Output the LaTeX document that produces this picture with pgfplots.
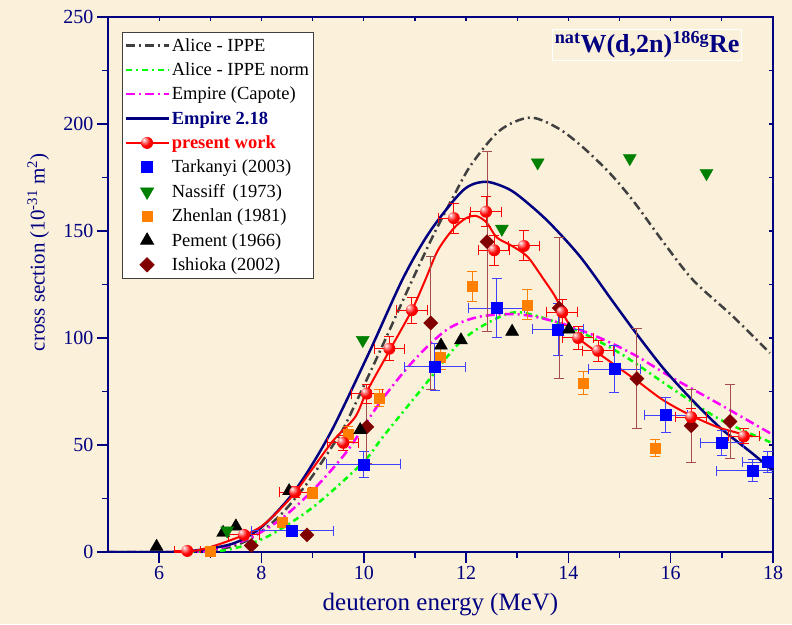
\documentclass[border=0pt]{standalone}
\usepackage{fontspec}
\setmainfont{Liberation Serif}
\usepackage{pgfplots}
\usepackage{pgfplotstable}
\pgfplotsset{compat=1.18}
\usetikzlibrary{plotmarks}

\definecolor{bg}{HTML}{FBF0DA}
\definecolor{navy}{HTML}{000080}
\definecolor{dgray}{HTML}{404040}
\definecolor{limeg}{HTML}{00FF00}
\definecolor{magen}{HTML}{FF00FF}
\definecolor{dgreen}{HTML}{008000}
\definecolor{orng}{HTML}{FF8000}
\definecolor{maroonc}{HTML}{800000}
\definecolor{bluec}{HTML}{0000FF}
\definecolor{redc}{HTML}{FF0000}

\pgfdeclareradialshading{rballsh}{\pgfpoint{-14bp}{14bp}}{%
  color(0bp)=(white); color(9bp)=(redc!45!white); color(22bp)=(redc);
  color(50bp)=(redc!88!black); color(75bp)=(redc!75!black)}
\pgfdeclareplotmark{rball}{%
  \pgfpathcircle{\pgfpointorigin}{\pgfplotmarksize}%
  \pgfshadepath{rballsh}{0}%
  \pgfusepath{}}

% present work: E sigma dE dsigma
\pgfplotstableread{
x y ex ey
6.55 0.5 0.25 0.5
7.66 8 0.3 1.5
8.66 28 0.3 2.5
9.60 51 0.3 3.5
10.06 74 0.3 4.5
10.50 95 0.3 5.5
10.94 113 0.3 6
11.76 156 0.3 7
12.39 159 0.3 7
12.55 141 0.3 7
13.13 143 0.3 7
13.88 112 0.3 6
14.19 100 0.3 5.5
14.58 94 0.3 5
16.40 63 0.3 4
17.43 54 0.3 3.5
}\present

\pgfplotstableread{
x y ex ey
8.60 10 0.80 2
10.00 41 0.72 6
11.39 86.5 0.6 11
12.60 114 0.55 14
13.80 104 0.5 12
14.90 85.5 0.5 11
15.90 64 0.42 8
17.00 51 0.42 6
17.60 38 0.7 5
17.90 42 0.5 5
}\tarkanyi

\pgfplotstableread{
x y
7.33 10
9.98 99
12.70 151
13.40 182
15.20 184
16.70 177
}\nassiff

\pgfplotstableread{
x y ey
7.00 0.5 0.5
8.40 14 2
9.00 27.5 2.5
9.69 55 3.5
10.30 72 4
11.50 91 5.5
12.12 124 7
13.20 115.5 7
14.29 79 5.5
15.70 48.6 4
}\zhenlan

\pgfplotstableread{
x y
5.95 2.5
7.25 9
7.50 12
8.54 28.5
9.93 57
11.51 96.5
11.90 99
12.90 103
14.01 104
}\pement

\pgfplotstableread{
x y ey
7.80 3 1
8.89 8 1
10.06 58.5 17
11.31 107 31
12.41 145 42
13.82 114 33
15.34 81 23.5
16.40 59 17
17.16 61 17.5
}\ishioka

\begin{document}
\begin{tikzpicture}
\useasboundingbox (-108pt,-72pt) rectangle (684pt,552pt);
\fill[bg] (-108pt,-72pt) rectangle (684pt,552pt);
% top/right inner ticks
\begin{axis}[
  at={(0pt,0pt)}, anchor=south west, scale only axis,
  width=665pt, height=535pt,
  xmin=5, xmax=18, ymin=0, ymax=250,
  axis line style={draw=none},
  xtick={6,...,17}, ytick={25,50,...,225},
  xtick pos=right, ytick pos=right, tick align=inside,
  major tick length=4pt,
  every tick/.style={navy, line width=1.2pt},
  xticklabels={}, yticklabels={},
]
\end{axis}
\begin{axis}[
  at={(0pt,0pt)}, anchor=south west, scale only axis,
  width=665pt, height=535pt,
  xmin=5, xmax=18, ymin=0, ymax=250,
  xtick={6,8,...,18}, minor xtick={7,9,...,17},
  ytick={0,50,...,250}, minor ytick={25,75,...,225},
  xtick pos=left, ytick pos=left, tick align=outside,
  major tick length=11pt, minor tick length=6pt,
  axis line style={navy, line width=2pt},
  every tick/.style={navy, line width=1.6pt},
  tick label style={navy, font=\fontsize{20}{24}\selectfont},
  /pgf/number format/assume math mode=true,
  xlabel={deuteron energy (MeV)},
  xlabel style={navy, font=\fontsize{25}{28}\selectfont, at={(axis description cs:0.5,-0.099)}, anchor=center},
  ylabel={cross section (10\textsuperscript{-31} m\textsuperscript{2})},
  ylabel style={navy, font=\fontsize{21}{24}\selectfont, at={(axis description cs:-0.105,0.56)}, anchor=center},
  legend style={at={(axis description cs:0.021,0.972)}, anchor=north west,
    draw=black!75, line width=0.8pt, fill=white,
    font=\fontsize{18.5}{21}\selectfont, row sep=6pt,
    inner xsep=2pt, inner ysep=4pt},
  legend cell align=left,
  legend image code/.code={\draw[mark repeat=2,mark phase=2,#1] plot coordinates {(0pt,0pt)(21.5pt,0pt)(43pt,0pt)};},
]
\addlegendimage{dgray, line width=2.5pt, dash pattern=on 9pt off 4pt on 2pt off 4pt}
\addlegendentry{Alice - IPPE}
\addlegendimage{limeg, line width=2.5pt, dash pattern=on 6pt off 4pt on 2pt off 4pt}
\addlegendentry{Alice - IPPE norm\hspace{42pt}}
\addlegendimage{magen, line width=2.5pt, dash pattern=on 9pt off 4pt on 2pt off 4pt}
\addlegendentry{Empire (Capote)}
\addlegendimage{navy, line width=2.5pt}
\addlegendentry{\textcolor{navy}{\textbf{Empire 2.18}}}
\addlegendimage{redc, line width=2pt, mark=rball, mark size=6pt}
\addlegendentry{\textcolor{redc}{\textbf{present work}}}
\addlegendimage{only marks, mark=square*, bluec, mark size=5.5pt}
\addlegendentry{Tarkanyi (2003)}
\addlegendimage{only marks, mark=triangle*, dgreen, mark size=7.5pt, mark options={rotate=180}}
\addlegendentry{Nassiff\, (1973)}
\addlegendimage{only marks, mark=square*, orng, mark size=5pt}
\addlegendentry{Zhenlan (1981)}
\addlegendimage{only marks, mark=triangle*, black, mark size=7.5pt}
\addlegendentry{Pement (1966)}
\addlegendimage{only marks, mark=square*, maroonc, mark size=5pt, mark options={rotate=45}}
\addlegendentry{Ishioka (2002)}

% Alice - IPPE
\addplot[forget plot, dgray, line width=2.5pt, dash pattern=on 9pt off 4pt on 2pt off 4pt, smooth, tension=0.5] coordinates {
(5.0,0) (6.5,0) (7.33,2) (7.84,7) (8.36,17) (8.89,32) (9.4,50) (9.65,60) (10.3,93)
(10.85,122) (11.36,148) (11.75,166) (12.1,181) (12.66,197) (13.25,203) (13.8,198)
(14.29,189) (14.81,177) (15.27,164) (15.85,145) (16.44,127) (17.22,110) (17.94,93) };
% Alice - IPPE norm
\addplot[forget plot, limeg, line width=2.5pt, dash pattern=on 6pt off 4pt on 2pt off 4pt, smooth, tension=0.5] coordinates {
(5.0,0) (6.5,0) (7.33,1) (8.1,7) (9.01,21) (9.99,42) (10.38,54) (11.16,77) (11.88,98)
(12.5,108) (13.05,112) (14.03,105) (15.0,93) (15.99,77) (16.96,62) (17.98,51) };
% Empire (Capote)
\addplot[forget plot, magen, line width=2.5pt, dash pattern=on 9pt off 4pt on 2pt off 4pt, smooth, tension=0.5] coordinates {
(5.0,0) (6.3,0) (6.94,0.5) (7.72,6) (8.36,15) (9.01,29) (9.67,47) (10.32,70) (10.96,89)
(11.63,104) (12.27,110) (13.05,111) (13.84,107) (14.62,100) (15.3,92) (15.99,82) (16.96,69) (17.98,55) };
% Empire 2.18
\addplot[forget plot, navy, line width=2.5pt, smooth, tension=0.5] coordinates {
(5.0,0) (6.27,0) (6.8,1) (7.45,4) (7.97,11) (8.5,24) (8.89,37) (9.4,58) (10.12,94)
(10.77,128) (11.3,150) (11.94,169) (12.35,173) (12.7,171) (13.0,167)
(13.58,155) (14.23,138) (14.87,117) (15.3,103) (15.85,86) (16.38,72) (16.97,58) (17.6,46) (18.0,38) };
% present work fit
\addplot[forget plot, redc, line width=2pt, smooth, tension=0.5] coordinates {
(6.3,0) (6.8,1) (7.45,6) (8.0,12) (8.56,25) (9.0,39) (9.4,52) (9.83,63) (10.06,75)
(10.5,94) (10.94,113) (11.2,127) (11.45,141) (11.75,151) (12.0,156) (12.2,157) (12.4,154)
(12.6,147) (12.9,143) (13.2,138) (13.5,128) (13.75,119) (13.95,109) (14.2,100) (14.58,93)
(15.34,80) (15.85,71) (16.38,64) (16.96,58) (17.6,54) };

% Zhenlan
\addplot[forget plot, only marks, mark=square*, orng, mark size=5pt,
  error bars/.cd, y dir=both, y explicit,
  error bar style={orng, line width=1pt},
  error mark options={rotate=90, orng, mark size=5pt, line width=1pt}]
  table[x=x, y=y, y error=ey] {\zhenlan};
% Tarkanyi
\addplot[forget plot, only marks, mark=square*, bluec, mark size=5.5pt,
  error bars/.cd, x dir=both, x explicit, y dir=both, y explicit,
  error bar style={bluec!75, line width=1pt},
  error mark options={rotate=90, bluec!75, mark size=5pt, line width=1pt}]
  table[x=x, y=y, x error=ex, y error=ey] {\tarkanyi};
% Ishioka
\addplot[forget plot, only marks, mark=square*, maroonc, mark size=5pt, mark options={rotate=45},
  error bars/.cd, y dir=both, y explicit,
  error bar style={maroonc!70, line width=1pt},
  error mark options={rotate=90, maroonc!70, mark size=5pt, line width=1pt}]
  table[x=x, y=y, y error=ey] {\ishioka};
% Pement
\addplot[forget plot, only marks, mark=triangle*, black, mark size=7.5pt] table[x=x, y=y] {\pement};
% Nassiff
\addplot[forget plot, only marks, mark=triangle*, dgreen, mark size=7.5pt, mark options={rotate=180}] table[x=x, y=y] {\nassiff};
% present work
\addplot[forget plot, only marks, mark=rball, mark size=6pt,
  error bars/.cd, x dir=both, x explicit, y dir=both, y explicit,
  error bar style={redc, line width=1pt},
  error mark options={rotate=90, redc, mark size=5pt, line width=1pt}]
  table[x=x, y=y, x error=ex, y error=ey] {\present};

\node[draw=white, line width=0.8pt, inner sep=2pt, text=navy, font=\fontsize{26}{28}\selectfont\bfseries]
  at (axis cs:15.54,237) {\textsuperscript{nat}W(d,2n)\textsuperscript{186g}Re};
\end{axis}
\end{tikzpicture}
\end{document}
